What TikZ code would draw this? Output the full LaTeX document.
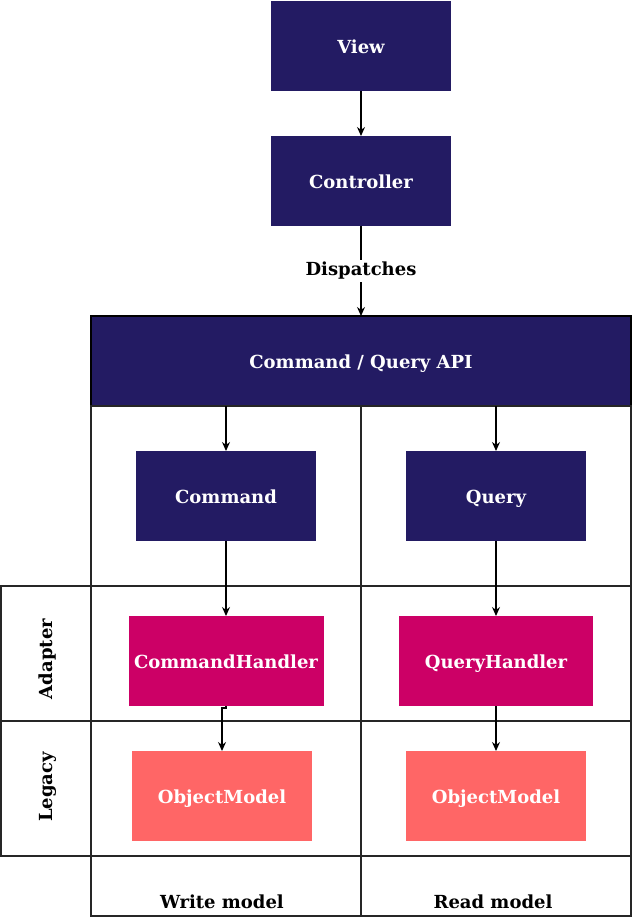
\documentclass[tikz,border=0pt]{standalone}
\usepackage{fontspec}
\setmainfont{DejaVu Serif}
\usetikzlibrary{arrows.meta,positioning}
\definecolor{marino}{HTML}{231B63}
\definecolor{magenta}{HTML}{CC0066}
\definecolor{salmon}{HTML}{FF6666}

\begin{document}
\begin{tikzpicture}[x=1pt,y=-1pt,>={Stealth[length=9pt,width=8pt]},node distance=45pt,line width=1.3pt,
  b/.style={draw=none,fill=marino,text=white,outer sep=0pt,minimum height=90pt,minimum width=180pt,
    text height=16pt,text depth=1pt,font=\fontsize{18}{20}\selectfont\bfseries},
  lane/.style={draw=black!85,line width=1.3pt},
  lbl/.style={font=\fontsize{18}{20}\selectfont\bfseries}]
\useasboundingbox (0,0) rectangle (632,917);
\node[b] (view) at (361,46) {View};
\node[b,below=of view] (ctrl) {Controller};
\node[b,draw=black,line width=1.3pt,minimum width=540pt,below=90pt of ctrl] (api) {Command / Query API};
% lanes and rows
\draw[lane] (api.south west) rectangle (361,916);
\draw[lane] (api.south) rectangle (631,916);
\draw[lane] (1,586) rectangle (91,856);
\draw[lane] (1,586) -- (631,586);
\draw[lane] (1,721) -- (631,721);
\draw[lane] (1,856) -- (631,856);
\node[lbl,rotate=90] (adapter) at (48,659) {Adapter};
\node[lbl,rotate=90] (legacy) at (48,787) {Legacy};
\node[lbl] (write) at (222,902) {Write model};
\node[lbl] (read) at (493,902) {Read model};
% write side
\coordinate (wtop) at (226,406);
\node[b,below=of wtop] (cmd) {Command};
\node[b,fill=magenta,minimum width=195pt,below=75pt of cmd] (ch) {CommandHandler};
\node[b,fill=salmon,below=45pt of ch,xshift=-4pt] (om1) {ObjectModel};
% read side
\coordinate (rtop) at (496,406);
\node[b,below=of rtop] (qry) {Query};
\node[b,fill=magenta,minimum width=194pt,below=75pt of qry] (qh) {QueryHandler};
\node[b,fill=salmon,below=of qh] (om2) {ObjectModel};
% arrows
\draw[->] (view)--(ctrl);
\draw[->] (ctrl)--node[lbl,fill=white,inner sep=2pt]{Dispatches}(api);
\draw[->] (wtop)--(cmd); \draw[->] (cmd)--(ch);
\draw[->] (ch.south) -- ++(0,2) -| (om1.north);
\draw[->] (rtop)--(qry); \draw[->] (qry)--(qh); \draw[->] (qh)--(om2);
\end{tikzpicture}
\end{document}
